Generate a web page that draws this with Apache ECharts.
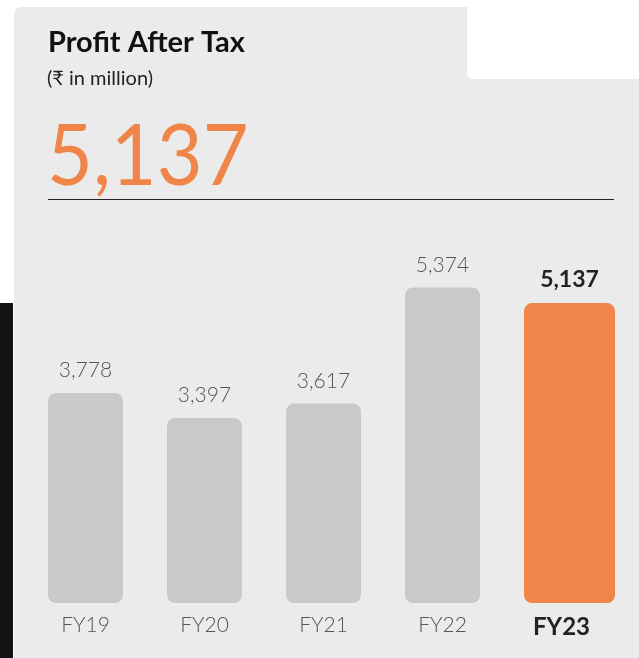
<!DOCTYPE html>
<html>
<head>
<meta charset="utf-8">
<script src="https://cdn.jsdelivr.net/npm/echarts@6/dist/echarts.min.js"></script>
<style>
html,body{margin:0;padding:0;background:#fff;}
#main{width:639px;height:658px;}
</style>
</head>
<body>
<div id="main"></div>
<script>
var categories=['FY19','FY20','FY21','FY22','FY23']
var profitValues=[3778,3397,3617,5374,5137]
var headline='5,137'

// last year is highlighted in orange, the rest are gray
var lastIdx=categories.length-1
var grayData=profitValues.map(function(v,i){return i===lastIdx?'-':v})
var orangeData=profitValues.map(function(v,i){return i===lastIdx?v:'-'})

var fontFam='Lato, "Noto Sans", sans-serif'

var chartDom=document.getElementById('main')
var myChart=echarts.init(chartDom)
var option={
	animation:false,
	backgroundColor:'#fff',
	graphic:[
		{type:'rect',z:-10,shape:{x:14,y:7,width:625,height:651,r:[8,0,0,0]},style:{fill:'#ebebeb'}},
		{type:'rect',z:-9,shape:{x:467,y:0,width:172,height:79,r:[0,0,0,6]},style:{fill:'#fff'}},
		{type:'rect',z:-9,shape:{x:0,y:303,width:13,height:355},style:{fill:'#121212'}},
		{type:'text',left:48,top:28,style:{text:'Profit After Tax',font:'bold 29px '+fontFam,fill:'#111'}},
		{type:'text',left:47,top:69,style:{text:'(₹ in million)',font:'20px '+fontFam,fill:'#222'}},
		{type:'text',x:47,y:114,scaleX:0.92,style:{text:headline,font:'86px '+fontFam,fill:'#f0854a'}},
		{type:'line',shape:{x1:48,y1:199.5,x2:614,y2:199.5},style:{stroke:'#222',lineWidth:1}}
	],
	grid:{left:26,right:18,top:246,bottom:55},
	xAxis:{
		type:'category',
		data:categories,
		axisLine:{show:false},
		axisTick:{show:false},
		axisLabel:{
			margin:12,
			fontFamily:fontFam,
			fontSize:21,
			fontWeight:300,
			color:'#555',
			formatter:function(v){return v===categories[lastIdx]?'{b|'+v+'}':v},
			rich:{b:{fontFamily:fontFam,fontSize:24,fontWeight:'bold',color:'#222'}}
		}
	},
	yAxis:{
		type:'value',
		min:600,
		max:6000,
		show:false,
		splitLine:{show:false}
	},
	series:[
		{
			type:'bar',
			data:orangeData,
			barWidth:91,
			barGap:'-100%',
			itemStyle:{color:'#f0854a',borderRadius:8},
			label:{show:true,position:'top',distance:12,fontFamily:fontFam,fontSize:23,fontWeight:'bold',color:'#222',
				formatter:function(p){return p.value.toLocaleString('en-US')}}
		},
		{
			type:'bar',
			data:grayData,
			barWidth:75,
			barGap:'-100%',
			itemStyle:{color:'#c8c9cb',borderRadius:8},
			label:{show:true,position:'top',distance:12,fontFamily:fontFam,fontSize:21,fontWeight:300,color:'#555',
				formatter:function(p){return p.value.toLocaleString('en-US')}}
		}
	]
}
myChart.setOption(option)
</script>
</body>
</html>
